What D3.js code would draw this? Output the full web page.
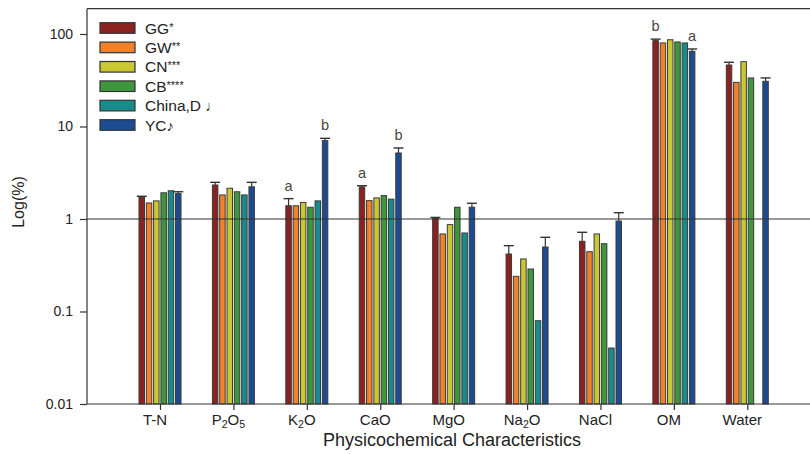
<!DOCTYPE html>
<html>
<head>
<meta charset="utf-8">
<script src="https://cdn.jsdelivr.net/npm/d3@7"></script>
<style>
  body { margin: 0; background: #fff; }
  text { font-family: "Liberation Sans", Arial, sans-serif; fill: #222; }
</style>
</head>
<body>
<div id="chart"></div>
<script>
// data
var categories = ["T-N", "P2O5", "K2O", "CaO", "MgO", "Na2O", "NaCl", "OM", "Water"];
var series = ["GG", "GW", "CN", "CB", "China", "YC"];
var seriesLabels = ["GG", "GW", "CN", "CB", "China,D", "YC"];
var seriesMarks = ["*", "**", "***", "****", " \u2669", "\u266A"];
var colors = ["#8b2222", "#f2822a", "#c9c832", "#3f963c", "#1a8b8b", "#1d4b92"];

var GG    = [1.72, 2.33, 1.39, 2.22, 1.02, 0.418, 0.574, 84.7, 46.2];
var GW    = [1.49, 1.82, 1.39, 1.58, 0.689, 0.24, 0.443, 80, 30];
var CN    = [1.57, 2.15, 1.51, 1.69, 0.87, 0.37, 0.689, 86.7, 50.2];
var CB    = [1.92, 1.97, 1.34, 1.79, 1.34, 0.288, 0.541, 82, 33.5];
var China = [2.02, 1.82, 1.57, 1.64, 0.706, 0.0795, 0.0403, 80, null];
var YC    = [1.88, 2.23, 7.03, 5.17, 1.34, 0.498, 0.95, 65, 30.8];

// upper ends of the error bars (only GG and YC carry them)
var GGerr = [1.76, 2.49, 1.66, 2.29, 1.04, 0.515, 0.718, 88, 49.5];
var YCerr = [1.97, 2.49, 7.45, 5.86, 1.48, 0.634, 1.17, 68.9, 33.5];

// significance letters
var letters = [
  {cat: "K2O", s: "GG", t: "a"}, {cat: "K2O", s: "YC", t: "b"},
  {cat: "CaO", s: "GG", t: "a"}, {cat: "CaO", s: "YC", t: "b"},
  {cat: "OM", s: "GG", t: "b"},  {cat: "OM", s: "YC", t: "a"}
];

var yTicks = [0.01, 0.1, 1, 10, 100];
var yTickLabels = ["0.01", "0.1", "1", "10", "100"];

var values = {GG: GG, GW: GW, CN: CN, CB: CB, China: China, YC: YC};
var errs = {GG: GGerr, YC: YCerr};

var width = 810, height = 454;
var pLeft = 87, pRight = 810, pTop = 8.7, pBottom = 404;

var svg = d3.select("#chart").append("svg")
  .attr("width", width)
  .attr("height", height);

var x0 = d3.scalePoint()
  .domain(categories)
  .range([160, 747.3]);

var x1 = d3.scaleBand()
  .domain(series)
  .range([-21, 21])
  .paddingInner(0.25);

var y = d3.scaleLog()
  .domain([0.01, 187.7])
  .range([pBottom, pTop]);

var color = d3.scaleOrdinal().domain(series).range(colors);

// bars
var barData = [];
categories.forEach(function(c, i) {
  series.forEach(function(s) {
    if (values[s][i] != null) barData.push({cat: c, s: s, v: values[s][i], i: i});
  });
});

svg.selectAll(".bar")
  .data(barData)
  .enter().append("rect")
  .attr("class", "bar")
  .attr("x", function(d) { return x0(d.cat) + x1(d.s); })
  .attr("y", function(d) { return y(d.v); })
  .attr("width", x1.bandwidth())
  .attr("height", function(d) { return pBottom - y(d.v); })
  .style("fill", function(d) { return color(d.s); })
  .style("stroke", "#3a3a3a")
  .style("stroke-width", 1);

// error bars
var errData = [];
categories.forEach(function(c, i) {
  ["GG", "YC"].forEach(function(s) {
    errData.push({cat: c, s: s, v: values[s][i], e: errs[s][i]});
  });
});

var eg = svg.selectAll(".err")
  .data(errData)
  .enter().append("g")
  .attr("class", "err")
  .attr("transform", function(d) {
    return "translate(" + (x0(d.cat) + x1(d.s) + x1.bandwidth() / 2) + ",0)";
  });
eg.append("line")
  .attr("x1", 0).attr("x2", 0)
  .attr("y1", function(d) { return y(d.v); })
  .attr("y2", function(d) { return y(d.e); })
  .style("stroke", "#333").style("stroke-width", 1.2);
eg.append("line")
  .attr("x1", -5).attr("x2", 5)
  .attr("y1", function(d) { return y(d.e); })
  .attr("y2", function(d) { return y(d.e); })
  .style("stroke", "#333").style("stroke-width", 1.4);

// letters
svg.selectAll(".letter")
  .data(letters)
  .enter().append("text")
  .attr("class", "letter")
  .attr("x", function(d) { return x0(d.cat) + x1(d.s) + x1.bandwidth() / 2; })
  .attr("y", function(d) {
    var i = categories.indexOf(d.cat);
    return y(errs[d.s][i]) - 8;
  })
  .attr("text-anchor", "middle")
  .style("font-size", "14.5px")
  .style("fill", "#4a4440")
  .text(function(d) { return d.t; });

// reference line at 1
svg.append("line")
  .attr("x1", pLeft).attr("x2", pRight)
  .attr("y1", y(1)).attr("y2", y(1))
  .style("stroke", "#333").style("stroke-width", 1.2);

// frame top
svg.append("line")
  .attr("x1", pLeft).attr("x2", pRight)
  .attr("y1", pTop).attr("y2", pTop)
  .style("stroke", "#333").style("stroke-width", 1.2);

// y axis
var yAxis = svg.append("g")
  .attr("transform", "translate(" + pLeft + ",0)")
  .call(d3.axisLeft(y)
    .tickValues(yTicks)
    .tickFormat(function(d, i) { return yTickLabels[i]; })
    .tickSize(7)
    .tickPadding(7));
yAxis.select(".domain").attr("d", "M0," + pTop + "V" + pBottom).style("stroke", "#333").style("stroke-width", 1.2);
yAxis.selectAll(".tick line").style("stroke", "#333").style("stroke-width", 1.2);
yAxis.selectAll(".tick text")
  .style("font-size", "14px")
  .style("fill", "#222")
  .style("font-family", "Liberation Sans, Arial, sans-serif");

// x axis
var xAxis = svg.append("g")
  .attr("transform", "translate(0," + pBottom + ")")
  .call(d3.axisBottom(x0).tickSize(6).tickFormat(""));
xAxis.select(".domain").attr("d", "M" + pLeft + ",0H" + pRight).style("stroke", "#333").style("stroke-width", 1.2);
xAxis.selectAll(".tick line").style("stroke", "#333").style("stroke-width", 1.2);

// x tick labels with subscripts
var subs = {"P2O5": [["P", 0], ["2", 1], ["O", 0], ["5", 1]],
            "K2O": [["K", 0], ["2", 1], ["O", 0]],
            "Na2O": [["Na", 0], ["2", 1], ["O", 0]]};
categories.forEach(function(c) {
  var t = svg.append("text")
    .attr("x", x0(c) - 5)
    .attr("y", 425)
    .attr("text-anchor", "middle")
    .style("font-size", "15px");
  var parts = subs[c] || [[c, 0]];
  parts.forEach(function(p) {
    t.append("tspan")
      .attr("baseline-shift", p[1] ? "-25%" : null)
      .style("font-size", p[1] ? "10.5px" : "15px")
      .text(p[0]);
  });
});

// axis titles
svg.append("text")
  .attr("x", 452)
  .attr("y", 446)
  .attr("text-anchor", "middle")
  .style("font-size", "18px")
  .text("Physicochemical Characteristics");

svg.append("text")
  .attr("transform", "translate(24,202) rotate(-90)")
  .attr("text-anchor", "middle")
  .style("font-size", "16px")
  .text("Log(%)");

// legend
var lg = svg.selectAll(".legend")
  .data(series)
  .enter().append("g")
  .attr("class", "legend")
  .attr("transform", function(d, i) { return "translate(100," + (28 + i * 19.4) + ")"; });
lg.append("rect")
  .attr("x", 0).attr("y", -5.3)
  .attr("width", 35).attr("height", 10.6)
  .style("fill", function(d) { return color(d); })
  .style("stroke", "#333").style("stroke-width", 1.2);
var lt = lg.append("text")
  .attr("x", 45).attr("y", 5.5)
  .style("font-size", "15.5px");
lt.append("tspan").text(function(d, i) { return seriesLabels[i]; });
lt.append("tspan")
  .attr("baseline-shift", function(d, i) { return seriesMarks[i].indexOf("*") >= 0 ? "30%" : null; })
  .style("font-size", function(d, i) { return seriesMarks[i].indexOf("*") >= 0 ? "11px" : "15px"; })
  .text(function(d, i) { return seriesMarks[i]; });
</script>
</body>
</html>
